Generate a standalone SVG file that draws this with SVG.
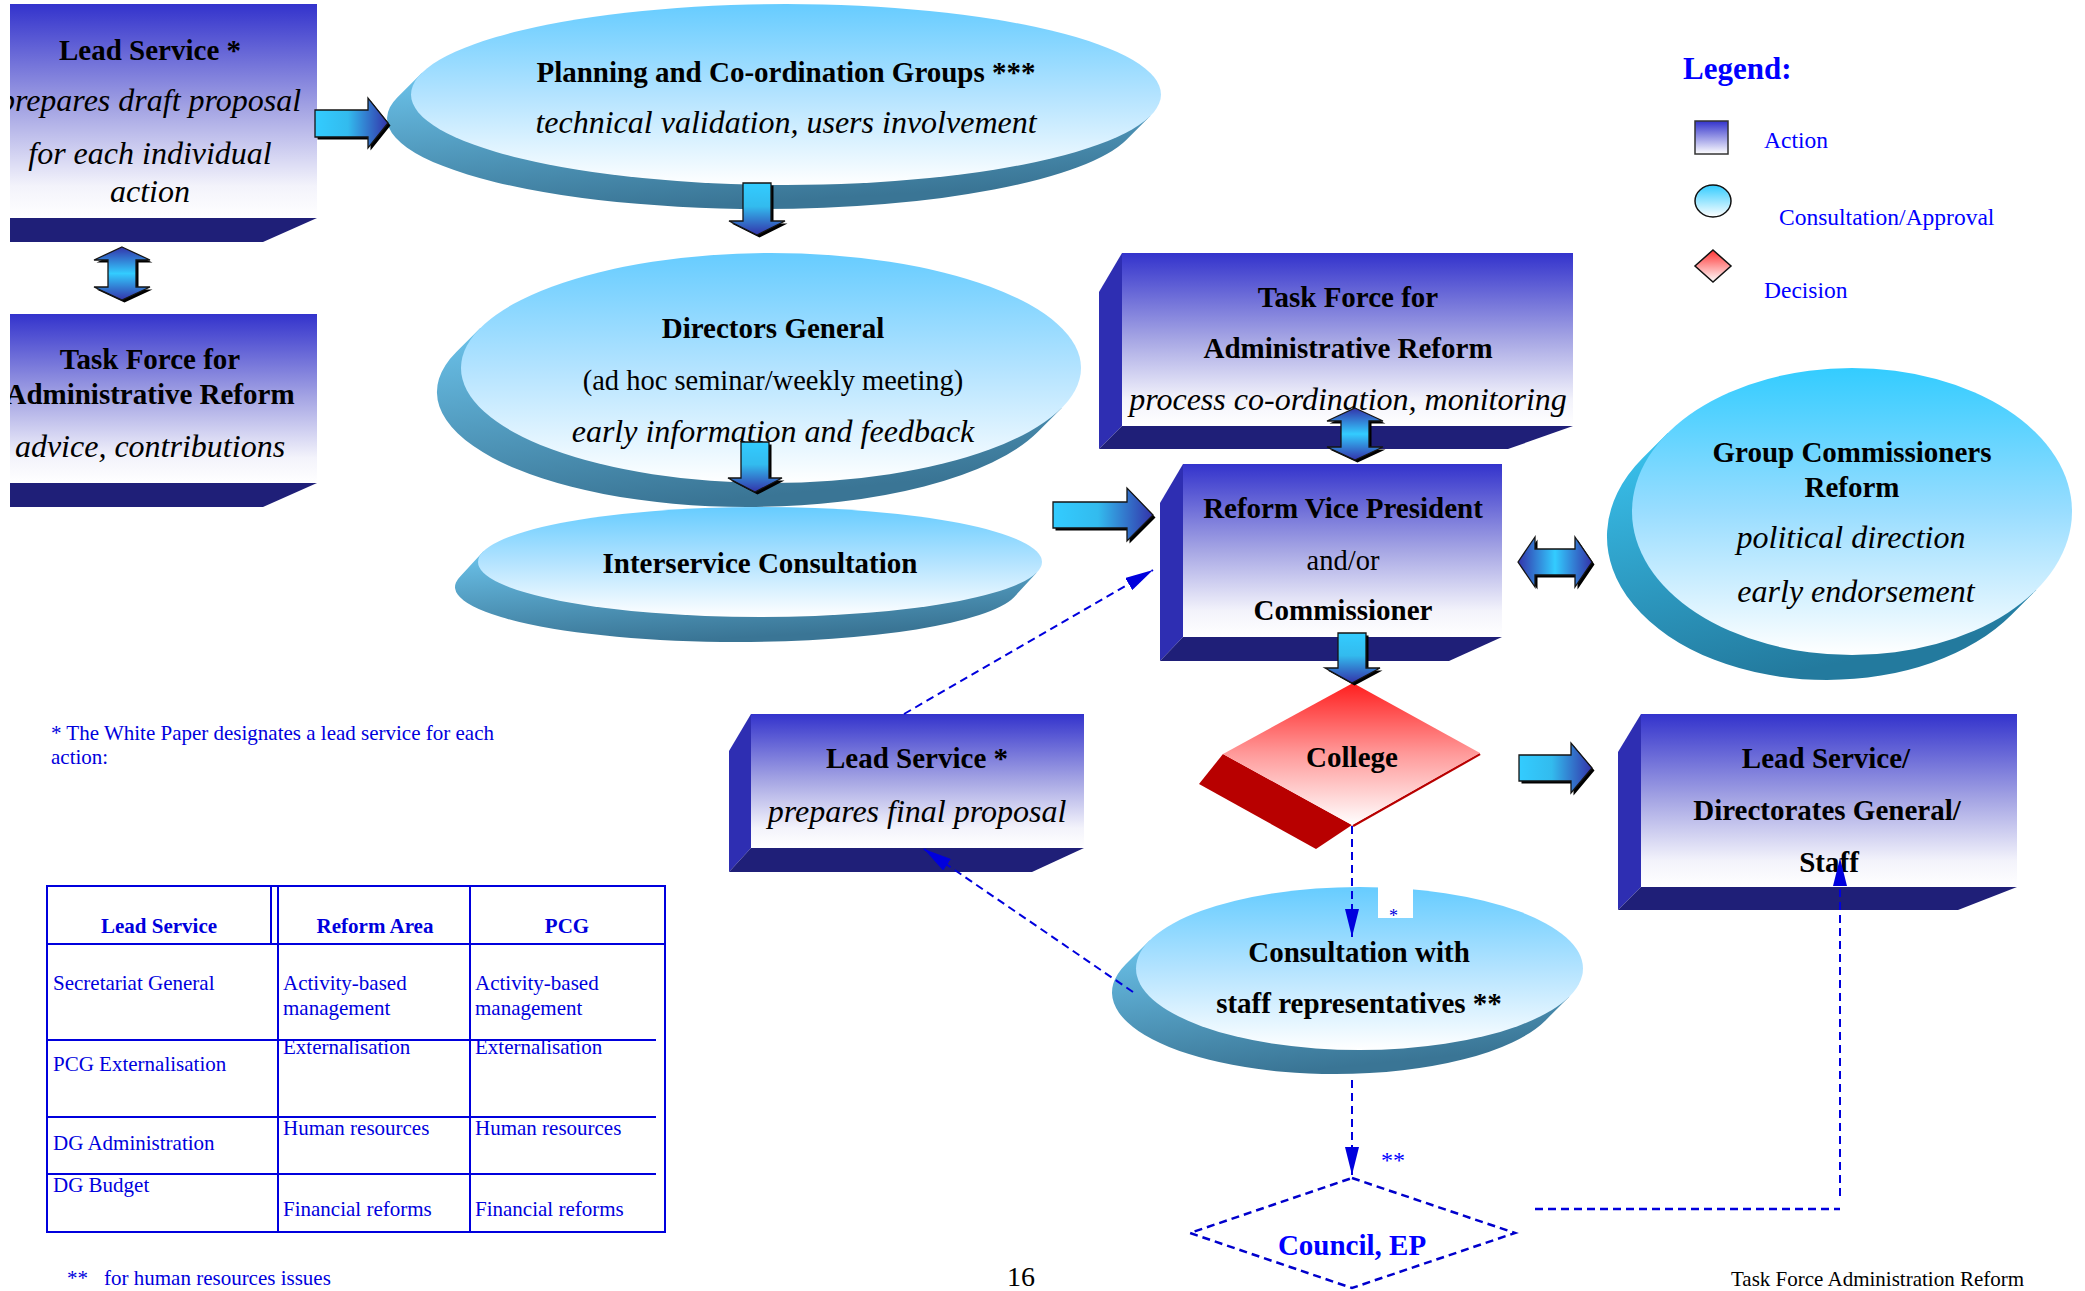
<svg xmlns="http://www.w3.org/2000/svg" xmlns:xlink="http://www.w3.org/1999/xlink" width="2085" height="1291" viewBox="0 0 2085 1291">
<style>
text{font-family:'Liberation Serif','Times New Roman',serif}
.t{font-weight:bold;font-size:29px;fill:#000;text-anchor:middle}
.i{font-style:italic;font-size:32px;fill:#000;text-anchor:middle}
.r{font-size:28.5px;fill:#000;text-anchor:middle}
.face{fill:url(#gBox)}
.side{fill:#2E2EB2}
.slab{fill:#1F1F78}
.top{fill:url(#gEll)}
.ext{fill:url(#gExt)}
.sh{fill:#000}
.ar{stroke:#151515;stroke-width:1.3}
.dash{fill:none;stroke:#0000DD;stroke-width:2;stroke-dasharray:8 5}
.tb{fill:#0000DD;font-size:21px}
.tbh{fill:#0000DD;font-size:21px;font-weight:bold;text-anchor:middle}
.tl{fill:none;stroke:#0000DD;stroke-width:2}
.lg{fill:#0000FF;font-size:23.5px}
</style>
<defs>
<linearGradient id="gBox" x1="0" y1="0" x2="0" y2="1">
<stop offset="0" stop-color="#3333CC"/><stop offset="0.5" stop-color="#A6A6E4"/><stop offset="0.85" stop-color="#F3F3FB"/><stop offset="1" stop-color="#FFFFFF"/>
</linearGradient>
<linearGradient id="gEll" x1="0" y1="0" x2="0" y2="1">
<stop offset="0" stop-color="#66CCFF"/><stop offset="0.5" stop-color="#B3E3FF"/><stop offset="1" stop-color="#FFFFFF"/>
</linearGradient>
<linearGradient id="gEll2" x1="0" y1="0" x2="0" y2="1">
<stop offset="0" stop-color="#33CCFF"/><stop offset="0.5" stop-color="#99DDFF"/><stop offset="1" stop-color="#FFFFFF"/>
</linearGradient>
<linearGradient id="gExt" x1="0" y1="0" x2="0.35" y2="1">
<stop offset="0" stop-color="#6CC4EC"/><stop offset="1" stop-color="#3A7595"/>
</linearGradient>
<linearGradient id="gExt2" x1="0" y1="0" x2="0.35" y2="1">
<stop offset="0" stop-color="#3BC6F2"/><stop offset="1" stop-color="#237A9E"/>
</linearGradient>
<linearGradient id="gRed" x1="0" y1="0" x2="0" y2="1">
<stop offset="0" stop-color="#FF1E1E"/><stop offset="0.5" stop-color="#FF9A9A"/><stop offset="1" stop-color="#FFFFFF"/>
</linearGradient>
<linearGradient id="gLegSq" x1="0" y1="0" x2="0" y2="1">
<stop offset="0" stop-color="#3333CC"/><stop offset="1" stop-color="#FFFFFF"/>
</linearGradient>
<linearGradient id="gLegEl" x1="0" y1="0" x2="0" y2="1">
<stop offset="0" stop-color="#33CCFF"/><stop offset="1" stop-color="#FFFFFF"/>
</linearGradient>
<linearGradient id="gLegDi" x1="0" y1="0" x2="0" y2="1">
<stop offset="0" stop-color="#FF3333"/><stop offset="1" stop-color="#FFFFFF"/>
</linearGradient>
<linearGradient id="gAR" x1="0" y1="0" x2="1" y2="0">
<stop offset="0" stop-color="#33CCFF"/><stop offset="0.45" stop-color="#33BBEE"/><stop offset="1" stop-color="#3333AA"/>
</linearGradient>
<linearGradient id="gAD" x1="0" y1="0" x2="0" y2="1">
<stop offset="0" stop-color="#33CCFF"/><stop offset="0.45" stop-color="#33BBEE"/><stop offset="1" stop-color="#3333AA"/>
</linearGradient>
<linearGradient id="gAV" x1="0" y1="0" x2="0" y2="1">
<stop offset="0" stop-color="#3333AA"/><stop offset="0.5" stop-color="#33CCFF"/><stop offset="1" stop-color="#3333AA"/>
</linearGradient>
<linearGradient id="gAH" x1="0" y1="0" x2="1" y2="0">
<stop offset="0" stop-color="#3333AA"/><stop offset="0.5" stop-color="#33CCFF"/><stop offset="1" stop-color="#3333AA"/>
</linearGradient>
<clipPath id="clipL"><rect x="10" y="0" width="310" height="520"/></clipPath>
<clipPath id="clipN"><rect x="1378" y="887" width="35" height="31"/></clipPath>
<marker id="ah" markerUnits="userSpaceOnUse" markerWidth="30" markerHeight="14" refX="28" refY="7" orient="auto">
<path d="M0,0 L28,7 L0,14 Z" fill="#0000DD"/>
</marker>
<path id="a1" d="M315,110 L368,110 L368,98 L388,123 L368,148 L368,137 L315,137 Z"/>
<path id="a2" d="M1053,502 L1127,502 L1127,488 L1153,515 L1127,541 L1127,528 L1053,528 Z"/>
<path id="a3" d="M1519,755 L1571,755 L1571,743 L1592,768 L1571,793 L1571,781 L1519,781 Z"/>
<path id="d1" d="M743,183 L771,183 L771,221 L785,221 L757,235 L729,221 L743,221 Z"/>
<path id="d2" d="M741,442 L769,442 L769,478 L782,478 L755,492 L728,478 L741,478 Z"/>
<path id="d3" d="M1338,633 L1366,633 L1366,668 L1380,668 L1352,683 L1325,668 L1338,668 Z"/>
<path id="v1" d="M122,247 L150,260 L136,260 L136,287 L150,287 L122,300 L94,287 L108,287 L108,260 L94,260 Z"/>
<path id="v2" d="M1355,408 L1383,421 L1369,421 L1369,447 L1383,447 L1355,460 L1327,447 L1341,447 L1341,421 L1327,421 Z"/>
<path id="h1" d="M1518,562 L1535,537 L1535,549 L1575,549 L1575,537 L1592,562 L1575,587 L1575,575 L1535,575 L1535,587 Z"/>
</defs>

<rect width="2085" height="1291" fill="#FFFFFF"/>

<!-- Nodes -->
<g id="lead-service-draft">
<rect class="face" x="10" y="4" width="307" height="214"/>
<polygon class="slab" points="10,218 317,218 263,242 10,242"/>
<g clip-path="url(#clipL)">
<text class="t" x="150" y="60">Lead Service *</text>
<text class="i" x="150" y="111">prepares draft proposal</text>
<text class="i" x="150" y="164">for each individual</text>
<text class="i" x="150" y="202">action</text>
</g>
</g>

<g id="task-force-advice">
<rect class="face" x="10" y="314" width="307" height="169"/>
<polygon class="slab" points="10,483 317,483 263,507 10,507"/>
<g clip-path="url(#clipL)">
<text class="t" x="150" y="369">Task Force for</text>
<text class="t" x="150" y="404">Administrative Reform</text>
<text class="i" x="150" y="457">advice, contributions</text>
</g>
</g>

<g id="pcg">
<path class="ext" d="M421.5,73.3 L397.5,97.3 A375,90.5 0 0 0 762,209 A375,90.5 0 0 0 1126.5,139.7 L1150.5,115.7 Z"/>
<ellipse class="top" cx="786" cy="94.5" rx="375" ry="90.5"/>
<text class="t" x="786" y="82">Planning and Co-ordination Groups ***</text>
<text class="i" x="786" y="133">technical validation, users involvement</text>
</g>

<g id="directors-general">
<path class="ext" d="M480.3,328 L456.3,352 A310,115 0 0 0 747,507 A310,115 0 0 0 1037.7,432 L1061.7,408 Z"/>
<ellipse class="top" cx="771" cy="368" rx="310" ry="115"/>
<text class="t" x="773" y="338">Directors General</text>
<text class="r" x="773" y="390">(ad hoc seminar/weekly meeting)</text>
<text class="i" x="773" y="442">early information and feedback</text>
</g>

<g id="interservice">
<path class="ext" d="M483.2,551.5 L460.2,576.5 A282,55 0 0 0 737,642 A282,55 0 0 0 1013.8,597.5 L1036.8,572.5 Z"/>
<ellipse class="top" cx="760" cy="562" rx="282" ry="55"/>
<text class="t" x="760" y="573">Interservice Consultation</text>
</g>

<g id="task-force-right">
<polygon class="side" points="1099,292 1122,253 1122,426 1099,449"/>
<rect class="face" x="1122" y="253" width="451" height="173"/>
<polygon class="slab" points="1122,426 1573,426 1508,449 1099,449"/>
<text class="t" x="1348" y="307">Task Force for</text>
<text class="t" x="1348" y="358">Administrative Reform</text>
<text class="i" x="1348" y="410">process co-ordination, monitoring</text>
</g>

<g id="reform-vp">
<polygon class="side" points="1160,503 1183,464 1183,637 1160,661"/>
<rect class="face" x="1183" y="464" width="319" height="173"/>
<polygon class="slab" points="1183,637 1502,637 1449,661 1160,661"/>
<text class="t" x="1343" y="518">Reform Vice President</text>
<text class="r" x="1343" y="570">and/or</text>
<text class="t" x="1343" y="620">Commissioner</text>
</g>

<g id="group-commissioners">
<path d="M1667.7,433.1 L1642.7,458.1 A220,143.5 0 0 0 1827,680 A220,143.5 0 0 0 2011.3,614.9 L2036.3,589.9 Z" fill="url(#gExt2)"/>
<ellipse cx="1852" cy="511.5" rx="220" ry="143.5" fill="url(#gEll2)"/>
<text class="t" x="1852" y="462">Group Commissioners</text>
<text class="t" x="1852" y="497">Reform</text>
<text class="i" x="1851" y="548">political direction</text>
<text class="i" x="1856" y="602">early endorsement</text>
</g>

<g id="lead-service-final">
<polygon class="side" points="729,751 751,714 751,848 729,872"/>
<rect class="face" x="751" y="714" width="333" height="134"/>
<polygon class="slab" points="751,848 1084,848 1032,872 729,872"/>
<text class="t" x="917" y="768">Lead Service *</text>
<text class="i" x="917" y="822">prepares final proposal</text>
</g>

<g id="college">
<polygon points="1223,754 1352,825 1316,849 1199,784" fill="#B80000"/>
<line x1="1353" y1="826" x2="1480" y2="754" stroke="#B80000" stroke-width="2.5"/>
<polygon points="1353,683 1480,753 1352,825 1223,754" fill="url(#gRed)"/>
<text class="t" x="1352" y="767">College</text>
</g>

<g id="lead-service-dg-staff">
<polygon class="side" points="1618,752 1641,714 1641,887 1618,910"/>
<rect class="face" x="1641" y="714" width="376" height="173"/>
<polygon class="slab" points="1641,887 2017,887 1958,910 1618,910"/>
<text class="t" x="1826" y="768">Lead Service/</text>
<text class="t" x="1827" y="820">Directorates General/</text>
<text class="t" x="1829" y="872">Staff</text>
</g>

<g id="consultation-staff">
<path class="ext" d="M1149.5,940.6 L1125.5,964.6 A223.5,81.5 0 0 0 1335.5,1074 A223.5,81.5 0 0 0 1545.5,1020.4 L1569.5,996.4 Z"/>
<ellipse class="top" cx="1359.5" cy="968.5" rx="223.5" ry="81.5"/>
<text class="t" x="1359" y="962">Consultation with</text>
<text class="t" x="1359" y="1013">staff representatives **</text>
</g>

<g id="note-box">
<rect x="1378" y="887" width="35" height="31" fill="#FFFFFF"/>
<text x="1389" y="922" clip-path="url(#clipN)" style="fill:#0000DD;font-size:18px">*</text>
</g>

<g id="council-ep">
<polygon points="1352,1178 1515,1233 1352,1288 1190,1233" fill="none" stroke="#0000CC" stroke-width="2.5" stroke-dasharray="8 5"/>
<text x="1352" y="1255" style="fill:#0000FF;font-weight:bold;font-size:29px;text-anchor:middle">Council, EP</text>
</g>

<!-- Connectors -->
<g id="connectors">
<use xlink:href="#a1" class="sh" transform="translate(2.5,2.5)"/><use xlink:href="#a1" class="ar" fill="url(#gAR)"/>
<use xlink:href="#a2" class="sh" transform="translate(2.5,2.5)"/><use xlink:href="#a2" class="ar" fill="url(#gAR)"/>
<use xlink:href="#a3" class="sh" transform="translate(2.5,2.5)"/><use xlink:href="#a3" class="ar" fill="url(#gAR)"/>
<use xlink:href="#d1" class="sh" transform="translate(2.5,2.5)"/><use xlink:href="#d1" class="ar" fill="url(#gAD)"/>
<use xlink:href="#d2" class="sh" transform="translate(2.5,2.5)"/><use xlink:href="#d2" class="ar" fill="url(#gAD)"/>
<use xlink:href="#d3" class="sh" transform="translate(2.5,2.5)"/><use xlink:href="#d3" class="ar" fill="url(#gAD)"/>
<use xlink:href="#v1" class="sh" transform="translate(2.5,2.5)"/><use xlink:href="#v1" class="ar" fill="url(#gAV)"/>
<use xlink:href="#v2" class="sh" transform="translate(2.5,2.5)"/><use xlink:href="#v2" class="ar" fill="url(#gAV)"/>
<use xlink:href="#h1" class="sh" transform="translate(2.5,2.5)"/><use xlink:href="#h1" class="ar" fill="url(#gAH)"/>

<line class="dash" x1="904" y1="714" x2="1153" y2="570" marker-end="url(#ah)"/>
<line class="dash" x1="1133" y1="992" x2="924" y2="849" marker-end="url(#ah)"/>
<line class="dash" x1="1352" y1="826" x2="1352" y2="937" marker-end="url(#ah)"/>
<line class="dash" x1="1352" y1="1080" x2="1352" y2="1175" marker-end="url(#ah)"/>
<line class="dash" x1="1535" y1="1209" x2="1840" y2="1209" style="stroke-width:2.5"/>
<line class="dash" x1="1840" y1="1196" x2="1840" y2="858" marker-end="url(#ah)"/>
</g>
<text x="1381" y="1168" style="fill:#0000FF;font-size:24px">**</text>

<!-- Legend -->
<g id="legend">
<text x="1683" y="79" style="fill:#0000FF;font-weight:bold;font-size:31px">Legend:</text>
<rect x="1695" y="121" width="33" height="33" fill="url(#gLegSq)" stroke="#333" stroke-width="1.5"/>
<text class="lg" x="1764" y="148">Action</text>
<ellipse cx="1713" cy="201" rx="18" ry="16" fill="url(#gLegEl)" stroke="#111" stroke-width="1.5"/>
<text class="lg" x="1779" y="225">Consultation/Approval</text>
<polygon points="1713,250 1731,266 1713,282 1695,266" fill="url(#gLegDi)" stroke="#111" stroke-width="1.5"/>
<text class="lg" x="1764" y="298">Decision</text>
</g>

<!-- Footnote and table -->
<g id="footnote">
<text class="tb" x="51" y="740">* The White Paper designates a lead service for each</text>
<text class="tb" x="51" y="764">action:</text>
</g>

<g id="table">
<rect class="tl" x="47" y="886" width="618" height="346"/>
<line class="tl" x1="271" y1="886" x2="271" y2="944"/>
<line class="tl" x1="278" y1="886" x2="278" y2="1232"/>
<line class="tl" x1="470" y1="886" x2="470" y2="1232"/>
<line class="tl" x1="47" y1="944" x2="665" y2="944"/>
<line class="tl" x1="47" y1="1040" x2="656" y2="1040"/>
<line class="tl" x1="47" y1="1117" x2="656" y2="1117"/>
<line class="tl" x1="47" y1="1174" x2="656" y2="1174"/>
<text class="tbh" x="159" y="933">Lead Service</text>
<text class="tbh" x="375" y="933">Reform Area</text>
<text class="tbh" x="567" y="933">PCG</text>
<text class="tb" x="53" y="990">Secretariat General</text>
<text class="tb" x="283" y="990">Activity-based</text>
<text class="tb" x="283" y="1015">management</text>
<text class="tb" x="475" y="990">Activity-based</text>
<text class="tb" x="475" y="1015">management</text>
<text class="tb" x="53" y="1071">PCG Externalisation</text>
<text class="tb" x="283" y="1054">Externalisation</text>
<text class="tb" x="475" y="1054">Externalisation</text>
<text class="tb" x="53" y="1150">DG Administration</text>
<text class="tb" x="283" y="1135">Human resources</text>
<text class="tb" x="475" y="1135">Human resources</text>
<text class="tb" x="53" y="1192">DG Budget</text>
<text class="tb" x="283" y="1216">Financial reforms</text>
<text class="tb" x="475" y="1216">Financial reforms</text>
</g>

<text class="tb" x="67" y="1285">**<tspan x="104">for human resources issues</tspan></text>
<text x="1021" y="1286" style="fill:#000;font-size:28px;text-anchor:middle">16</text>
<text x="1731" y="1286" style="fill:#000;font-size:21px">Task Force Administration Reform</text>
</svg>
